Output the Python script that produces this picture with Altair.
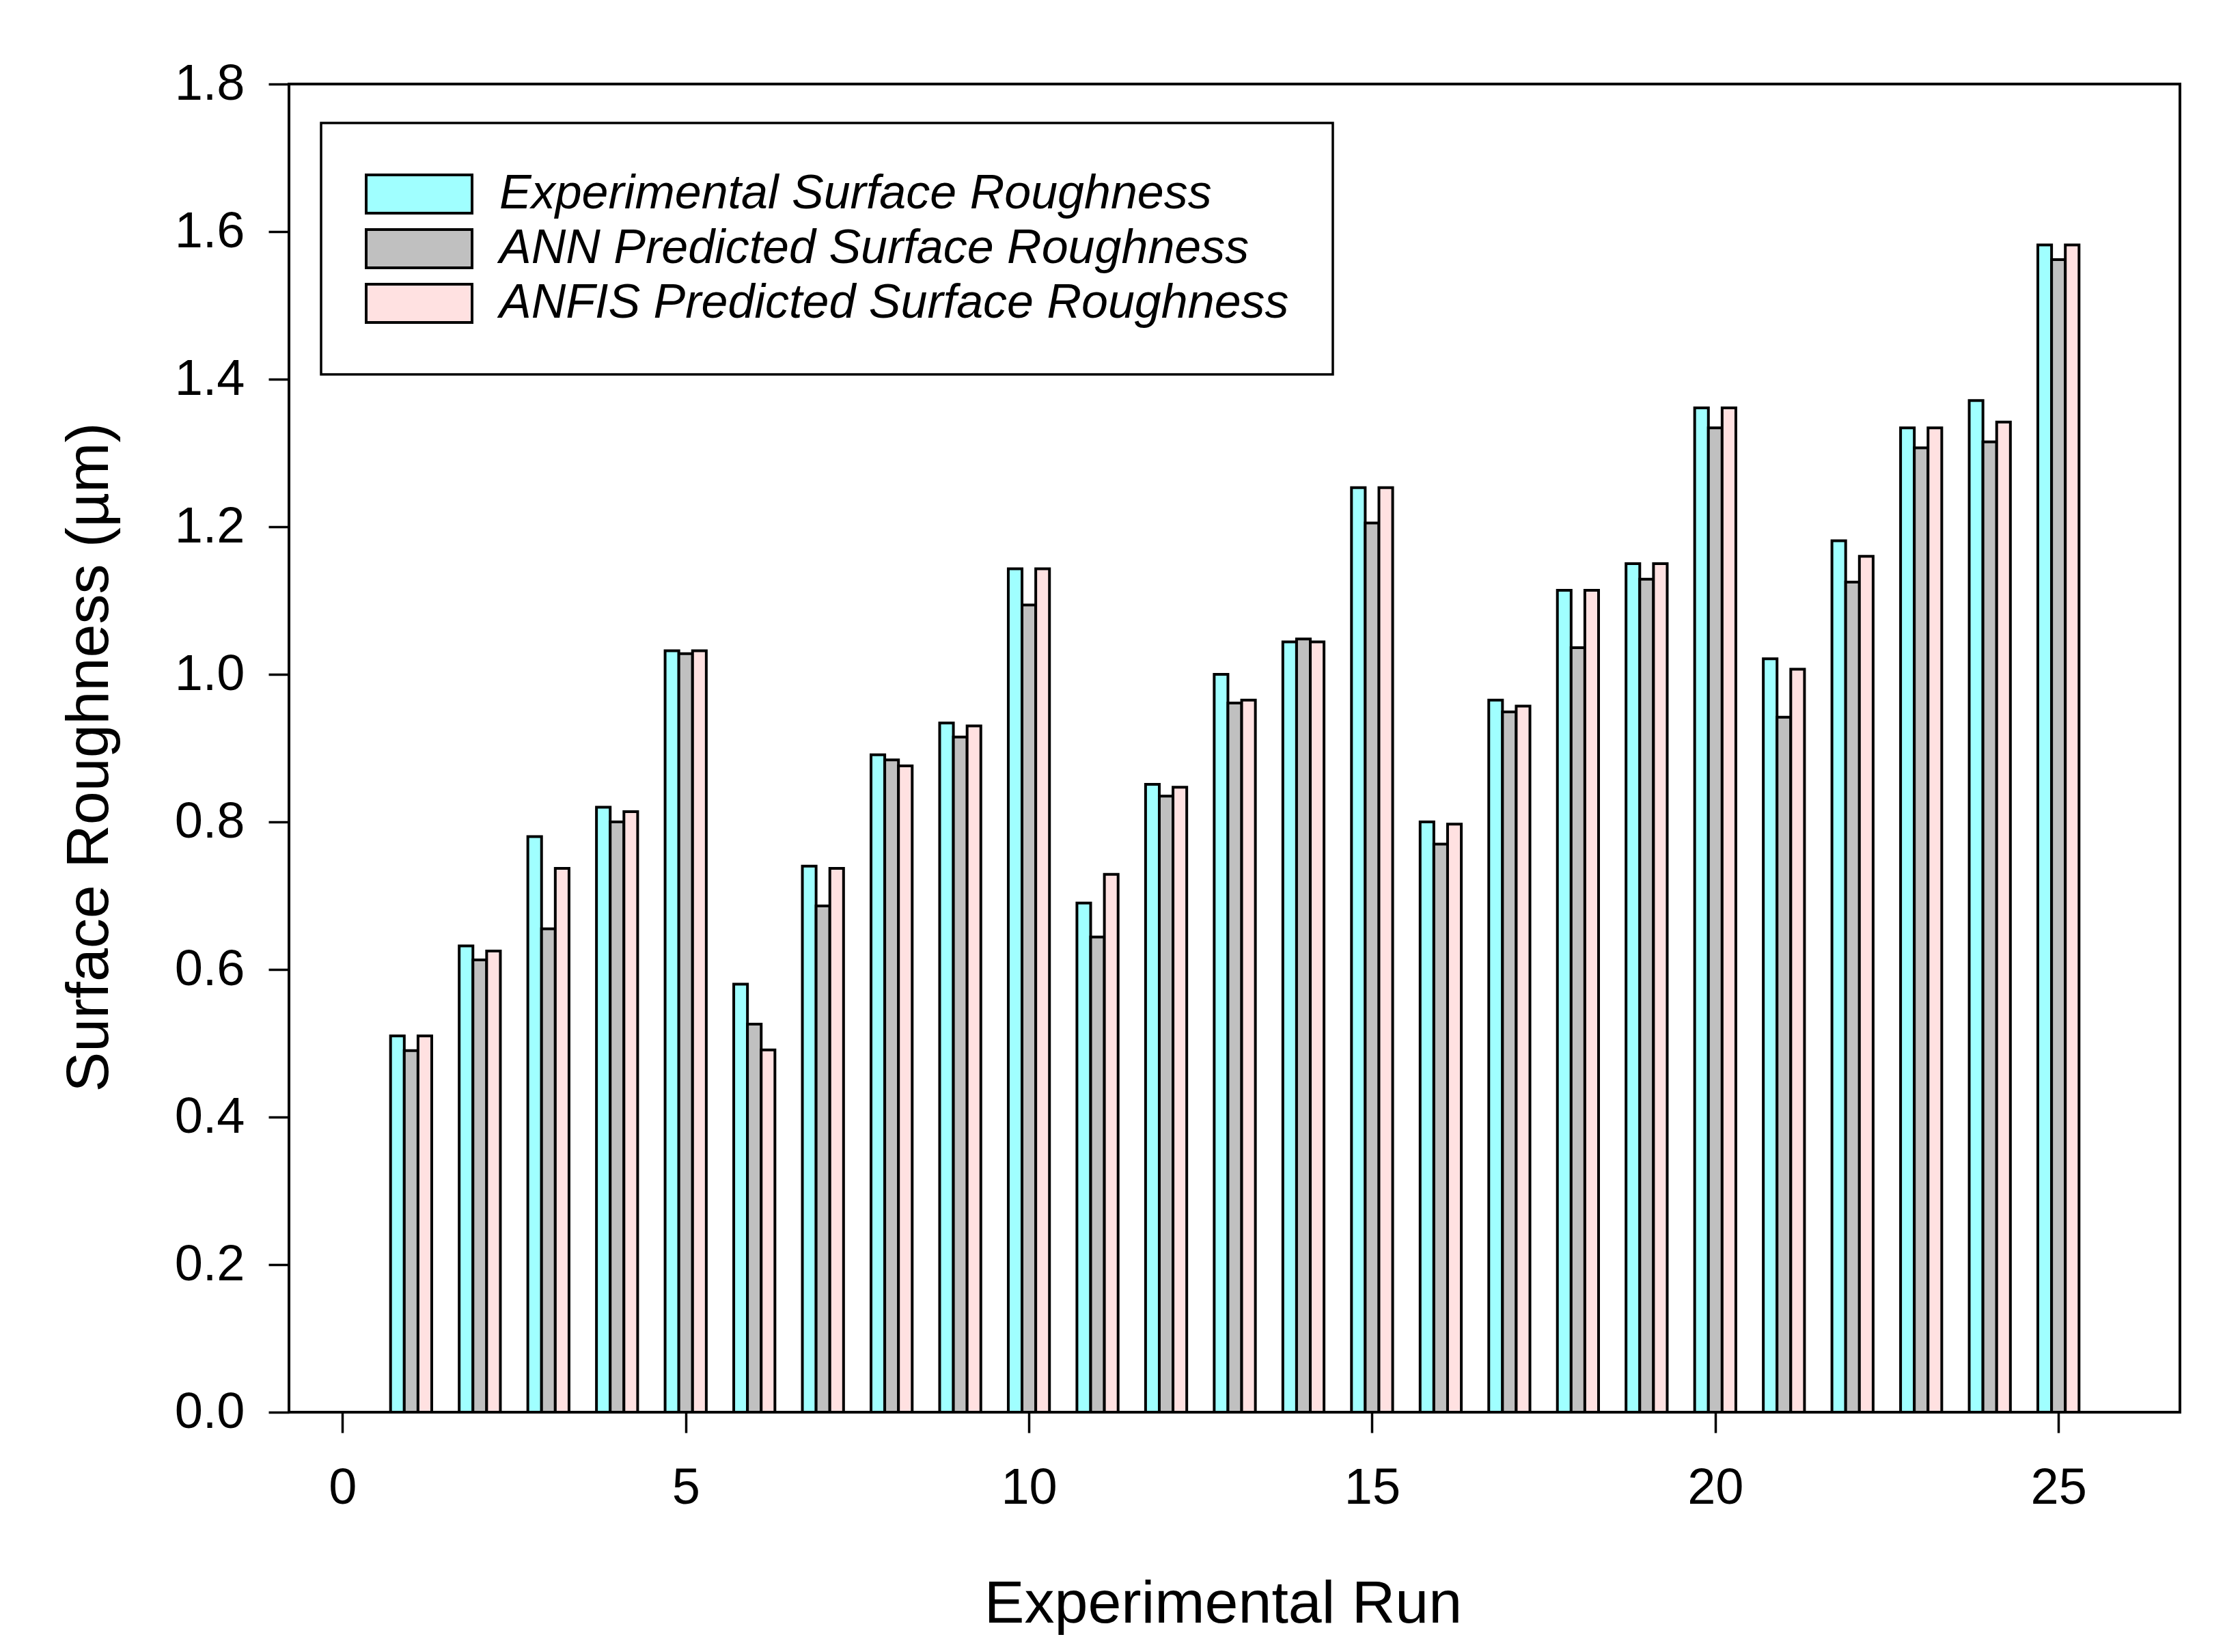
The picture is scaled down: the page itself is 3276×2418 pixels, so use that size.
import altair as alt
import pandas as pd

runs = list(range(1, 26))
experimental = [0.51, 0.632, 0.78, 0.82, 1.032, 0.58, 0.74, 0.891, 0.934, 1.143,
                0.69, 0.851, 1.0, 1.044, 1.253, 0.80, 0.965, 1.114, 1.15, 1.361,
                1.021, 1.181, 1.334, 1.371, 1.582]
ann = [0.49, 0.613, 0.655, 0.80, 1.028, 0.526, 0.686, 0.884, 0.915, 1.094,
       0.644, 0.835, 0.961, 1.048, 1.205, 0.77, 0.949, 1.036, 1.129, 1.334,
       0.942, 1.125, 1.307, 1.315, 1.562]
anfis = [0.51, 0.625, 0.737, 0.814, 1.032, 0.491, 0.737, 0.876, 0.93, 1.143,
         0.729, 0.847, 0.965, 1.044, 1.253, 0.797, 0.957, 1.114, 1.15, 1.361,
         1.007, 1.16, 1.334, 1.342, 1.582]

series_names = ["Experimental Surface Roughness",
                "ANN Predicted Surface Roughness",
                "ANFIS Predicted Surface Roughness"]
series_colors = ["#A0FFFF", "#C0C0C0", "#FFE1E1"]
series_offsets = [-0.2, 0.0, 0.2]
x_ticks = [0, 5, 10, 15, 20, 25]
y_ticks = [0.0, 0.2, 0.4, 0.6, 0.8, 1.0, 1.2, 1.4, 1.6, 1.8]

rows = []
for name, off, vals in zip(series_names, series_offsets, [experimental, ann, anfis]):
    for r, v in zip(runs, vals):
        rows.append({"run": r, "series": name, "offset": off, "value": v})
df = pd.DataFrame(rows)

FONT = "Liberation Sans"
legend_symbol = "M-1,-0.36L1,-0.36L1,0.36L-1,0.36Z"

chart = alt.Chart(df).transform_calculate(
    x0="datum.run + datum.offset - 0.1",
    x1="datum.run + datum.offset + 0.1",
    base="0",
).mark_bar(stroke="black", strokeWidth=4, opacity=1).encode(
    x=alt.X("x0:Q",
            scale=alt.Scale(domain=[-0.78, 26.77], nice=False, zero=False),
            axis=alt.Axis(values=x_ticks, title="Experimental Run",
                          labelPadding=45, labelFlush=False,
                          titleX=1367, titleY=307, titleBaseline="alphabetic",
                          titleAlign="center")),
    x2="x1:Q",
    y=alt.Y("value:Q",
            scale=alt.Scale(domain=[0, 1.8], nice=False),
            axis=alt.Axis(values=y_ticks, format=".1f",
                          title="Surface Roughness (µm)",
                          labelPadding=35, labelFlush=False,
                          titleX=-266, titleY=985, titleBaseline="alphabetic",
                          titleAlign="center", titleAngle=270)),
    y2="base:Q",
    color=alt.Color("series:N",
                    sort=series_names,
                    scale=alt.Scale(domain=series_names, range=series_colors),
                    legend=alt.Legend(title=None, orient="none",
                                      legendX=47, legendY=57,
                                      symbolType=legend_symbol,
                                      symbolSize=24025,
                                      symbolStrokeColor="black",
                                      symbolStrokeWidth=4,
                                      symbolOpacity=1,
                                      labelFont=FONT, labelFontSize=70,
                                      labelFontStyle="italic",
                                      labelColor="black",
                                      labelOffset=38, labelLimit=0,
                                      padding=64, clipHeight=80,
                                      rowPadding=0,
                                      fillColor="white",
                                      strokeColor="black")),
).properties(
    width=2768, height=1944,
    autosize=alt.AutoSizeParams(type="none"),
    padding={"left": 415, "top": 115, "right": 77, "bottom": 345},
).configure_view(
    stroke="black", strokeWidth=4
).configure_axis(
    domain=False, grid=False,
    ticks=True, tickColor="black", tickWidth=3.5, tickSize=30,
    labelFont=FONT, labelFontSize=74, labelColor="black",
    titleFont=FONT, titleFontSize=88, titleFontWeight="normal", titleColor="black",
).configure_legend(
    strokeWidth=3.5
)

chart.save("out.html", embed_options={"renderer": "svg", "actions": False})
